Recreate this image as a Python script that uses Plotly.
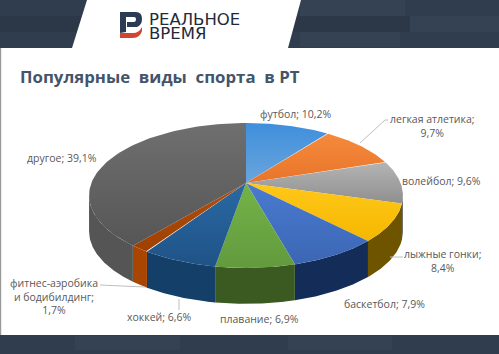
import numpy as np
import plotly.graph_objects as go

categories = ["футбол", "легкая атлетика", "волейбол", "лыжные гонки", "баскетбол",
              "плавание", "хоккей", "фитнес-аэробика и бодибилдинг", "другое"]
values = [10.2, 9.7, 9.6, 8.4, 7.9, 6.9, 6.6, 1.7, 39.1]
tick_text = ["футбол; 10,2%", "легкая атлетика;<br>9,7%", "волейбол; 9,6%", "лыжные гонки;<br>8,4%",
             "баскетбол; 7,9%", "плавание; 6,9%", "хоккей; 6,6%",
             "фитнес-аэробика<br>и бодибилдинг;<br>1,7%", "другое; 39,1%"]

top_grad = [("#3f8fdc", "#6aa5dc"), ("#f58a3c", "#e8742a"), ("#b4b4b4", "#8f8f8f"), ("#ffc71a", "#f5b800"),
            ("#4a7bd0", "#3b66b4"), ("#74b348", "#629a3e"), ("#2a69a3", "#1f5387"), ("#b04f10", "#a04000"),
            ("#6f6f6f", "#565656")]
wall = ["#6e6e6e", "#8a4a1c", "#666666", "#6f5400", "#142d58", "#3a5a22", "#143f68", "#a84500", "#555555"]
lab_xy = [(295, 114), (432, 126), (441, 181), (442, 261), (384, 304), (259, 319), (159, 317), (54, 296), (62, 158)]

AX, AY, A, B, K, DEPTH = 246, 183, 154.6, 70.3, 0.172, 36


def rim(t):
    u, v = np.sin(t), np.cos(t)
    w = 1 + K * v
    return AX + A * u / w, AY - B * v / w


fig = go.Figure()
edges = np.cumsum([0] + values) / sum(values) * 2 * np.pi
t_r, t_l = np.arccos(-K), 2 * np.pi - np.arccos(-K)

# side walls
for i in range(len(values)):
    a, b = max(edges[i], t_r), min(edges[i + 1], t_l)
    if b <= a:
        continue
    t = np.linspace(a, b, 80)
    x, y = rim(t)
    fig.add_trace(go.Scatter(x=np.r_[x, x[::-1]], y=np.r_[y, y[::-1] + DEPTH], mode="lines", fill="toself",
                             line=dict(width=0), fillcolor=wall[i], hoverinfo="skip", showlegend=False))
# top faces
for i in range(len(values)):
    t = np.linspace(edges[i], edges[i + 1], 80)
    x, y = rim(t)
    c0, c1 = top_grad[i]
    fig.add_trace(go.Scatter(x=np.r_[AX, x, AX], y=np.r_[AY, y, AY], mode="lines", fill="toself",
                             line=dict(width=0), name=categories[i], showlegend=False,
                             fillgradient=dict(type="vertical", colorscale=[[0, c1], [1, c0]])))

# leader lines
for lx, ly in [([360, 385, 388], [143, 120, 120]), ([390, 403], [257, 257]),
               ([100, 145], [285, 287]), ([179, 179], [299, 310])]:
    fig.add_trace(go.Scatter(x=lx, y=ly, mode="lines", line=dict(color="#bfbfbf", width=1),
                             hoverinfo="skip", showlegend=False))

ann = [dict(x=p[0], y=p[1], text=s, showarrow=False, xanchor="center", yanchor="middle",
            font=dict(family="Open Sans", size=10.5, color="#595959"))
       for p, s in zip(lab_xy, tick_text)]
ann += [
    dict(x=18, y=76.5, text="<b>Популярные  виды  спорта  в РТ</b>", showarrow=False, xanchor="left", yanchor="middle",
         font=dict(family="Open Sans", size=16.8, color="#44546A")),
    dict(x=147, y=18.5, text="РЕАЛЬНОЕ", showarrow=False, xanchor="left", yanchor="middle", height=14,
         font=dict(family="DejaVu Sans", size=16.5, color="#1f2a3a")),
    dict(x=147, y=32.5, text="ВРЕМЯ", showarrow=False, xanchor="left", yanchor="middle", height=14,
         font=dict(family="DejaVu Sans", size=16.5, color="#1f2a3a")),
]


def rect(x0, y0, x1, y1, c):
    return dict(type="rect", x0=x0, y0=y0, x1=x1, y1=y1, fillcolor=c, line_width=0, layer="below")


def path(d, c, layer="below"):
    return dict(type="path", path=d, fillcolor=c, line_width=0, layer=layer)


DARK, DARK2, LIGHT = "#303d4e", "#2c3847", "#344254"
shapes = [
    rect(0, 0, 499, 48, DARK), rect(0, 16, 499, 32, DARK2),
    rect(410, 16, 499, 32, LIGHT), rect(300, 0, 405, 16, LIGHT), rect(300, 32, 400, 47, LIGHT),
    rect(0, 335, 499, 354, DARK), rect(75, 336, 180, 350, LIGHT), rect(288, 336, 392, 350, LIGHT),
    path("M 87 0 L 301 0 L 288 48 L 72 48 Z", "#ffffff"),
    rect(0, 48, 1.2, 335, "#9a9a9a"),
    # logo
    path("M 120 12 L 136 12 Q 142 12 142 19 Q 142 25 137 27 L 127 27 L 127 22 L 134 22 Q 136 22 136 19 Q 136 17 134 17 L 126 17 L 126 32 L 120 33 Z", "#2b3a55"),
    path("M 120 33 L 133 33 Q 139 33 142 27 L 142 31 Q 140 38 133 38 L 120 38 Z", "#d2452f"),
]

fig.update_layout(width=499, height=354, margin=dict(l=0, r=0, t=0, b=0), paper_bgcolor="#ffffff",
                  plot_bgcolor="#ffffff", xaxis=dict(range=[0, 499], visible=False, fixedrange=True),
                  yaxis=dict(range=[354, 0], visible=False, fixedrange=True), annotations=ann, shapes=shapes,
                  showlegend=False)
fig.write_html("out.html", config=dict(displayModeBar=False),
               post_script="document.body.style.margin='0';document.documentElement.style.overflow='hidden';")
